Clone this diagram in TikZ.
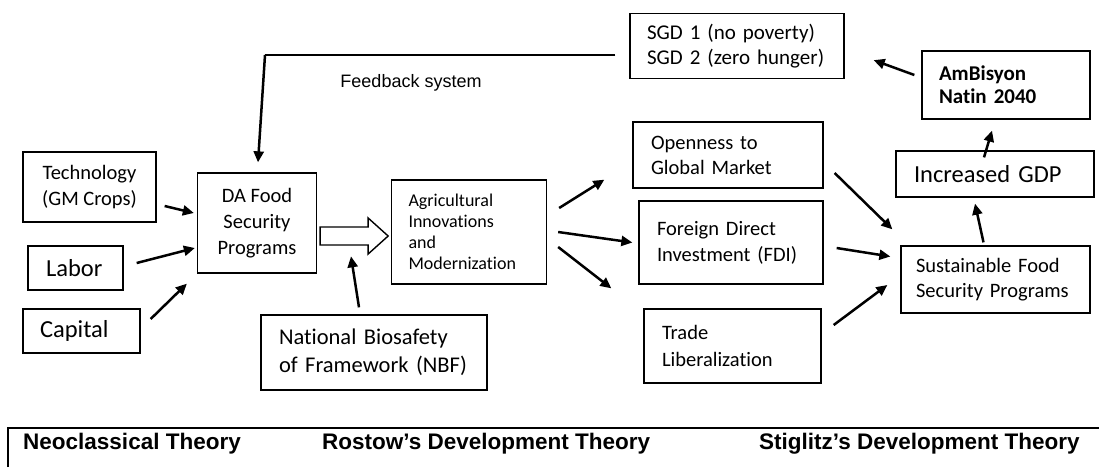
\documentclass[tikz,border=0pt]{standalone}
\usepackage{fontspec}
\setmainfont{Carlito}[Ligatures=NoCommon]
\newfontfamily\arialfont{Liberation Sans}
\usetikzlibrary{calc,arrows.meta}
\tikzset{
  plain box/.style={draw,line width=1.3pt,inner sep=0pt,align=center},
  text box/.style={draw,line width=1.3pt,inner ysep=0pt,align=left},
  flow arrow/.style={line width=2.5pt,-{Triangle[length=11pt,width=10pt]}},
  feedback line/.style={line width=2.5pt},
  hollow arrow/.style={line width=1.4pt,fill=white,line join=miter},
  theory line/.style={line width=1.8pt},
  theory label/.style={font=\arialfont\bfseries\fontsize{22.5}{26}\selectfont,anchor=west,inner sep=0pt},
  body text/.style={font=\fontsize{20.5}{#1}\selectfont},
}

\begin{document}
\begin{tikzpicture}[x=1pt,y=-1pt]
\useasboundingbox (0,0) rectangle (1099,467);
% inputs of the programs
\node[plain box,minimum width=133,minimum height=70,body text=26] (tech) at (89.5,187) {Technology\\(GM Crops)};
\node[text box,inner xsep=18pt,text width=59pt,minimum height=44,font=\fontsize{24.5}{28}\selectfont] (labor) at (75.5,268) {Labor};
\node[text box,inner xsep=17pt,text width=83pt,minimum height=44,font=\fontsize{24.5}{28}\selectfont] (capital) at (81.5,331) {Capital};
\node[plain box,minimum width=119,minimum height=100,body text=26] (da) at (257,223) {DA Food\\Security\\Programs};
\node[text box,inner xsep=17pt,text width=121pt,minimum height=104,font=\fontsize{18}{21}\selectfont] (agri) at (469,232) {Agricultural\\Innovations\\and\\Modernization};
\node[text box,inner xsep=18pt,text width=190pt,minimum height=75,font=\fontsize{22.5}{28}\selectfont] (nbf) at (374,352.5) {National Biosafety\\of Framework (NBF)};
% middle column
\node[text box,inner xsep=18pt,text width=154pt,minimum height=66,body text=25] (open) at (728,155) {Openness to\\Global Market};
\node[text box,inner xsep=18pt,text width=148pt,minimum height=83,body text=26] (fdi) at (731,242.5) {Foreign Direct\\Investment (FDI)};
\node[text box,inner xsep=18pt,text width=141pt,minimum height=74,body text=27] (trade) at (732.5,346) {Trade\\Liberalization};
% outcomes
\node[text box,inner xsep=15pt,text width=159pt,minimum height=67,body text=25] (sust) at (995.5,279.5) {Sustainable Food\\Security Programs};
\node[text box,inner xsep=18pt,text width=162pt,minimum height=46,font=\fontsize{24.5}{28}\selectfont] (gdp) at (995,174) {Increased GDP};
\node[text box,inner xsep=17pt,text width=134pt,minimum height=68,font=\bfseries\fontsize{21}{23}\selectfont] (amb) at (1006,85) {AmBisyon\\Natin 2040};
\node[text box,inner xsep=17pt,text width=180pt,minimum height=65,font=\fontsize{21}{25}\selectfont] (sgd) at (737,46) {SGD 1 (no poverty)\\SGD 2 (zero hunger)};

\draw[flow arrow] ($(tech.east)+(8,19)$) -- ($(da.west)+(-3,-10)$);
\draw[flow arrow] ($(labor.east)+(13,-5)$) -- ($(da.west)+(-2,25)$);
\draw[flow arrow] ($(capital.east)+(10,-12)$) -- ($(da.south west)+(-10,10)$);
\draw[hollow arrow] ($(da.east)+(3,4)$) -- ++(48,0) -- ++(0,-9) -- ++(20,18) -- ++(-20,18) -- ++(0,-9) -- ++(-48,0) -- cycle;
\draw[flow arrow] ($(nbf.north)+(-15,-7)$) -- ($(nbf.north)+(-23,-58)$);

\draw[flow arrow] ($(agri.east)+(12,-24)$) -- ($(open.south west)+(-28,-9)$);
\draw[flow arrow] ($(agri.east)+(11,0)$) -- ($(fdi.west)+(-6,0)$);
\draw[flow arrow] ($(agri.east)+(11,15)$) -- ($(trade.north west)+(-32,-20)$);
\draw[flow arrow] ($(open.east)+(11,18)$) -- ($(sust.north west)+(-8,-16)$);
\draw[flow arrow] ($(fdi.east)+(13,5.5)$) -- ($(sust.west)+(-10,-23)$);
\draw[flow arrow] ($(trade.east)+(12,-21)$) -- ($(sust.west)+(-13,5.5)$);
\draw[flow arrow] ($(sust.north)+(-12,-3)$) -- ($(gdp.south)+(-20,6)$);
\draw[flow arrow] ($(gdp.north)+(-11,7)$) -- ($(amb.south)+(-14,11)$);
\draw[flow arrow] ($(amb.west)+(-7,-10)$) -- ($(sgd.south east)+(29,-19)$);

% feedback loop
\coordinate (fbcorner) at (265,55);
\draw[feedback line] ($(sgd.west)+(-14,9)$) -- (fbcorner);
\draw[flow arrow] (fbcorner) -- ($(da.north)+(1,-10)$);
\node[font=\arialfont\fontsize{18}{22}\selectfont] (fblabel) at (411,83) {Feedback system};

% theories
\draw[theory line] (8,467) -- (8,428) -- (1099,428);
\node[theory label] (neo) at (23,444) {Neoclassical Theory};
\node[theory label] (rostow) at (322,444) {Rostow’s Development Theory};
\node[theory label] (stiglitz) at (759,444) {Stiglitz’s Development Theory};
\end{tikzpicture}
\end{document}
